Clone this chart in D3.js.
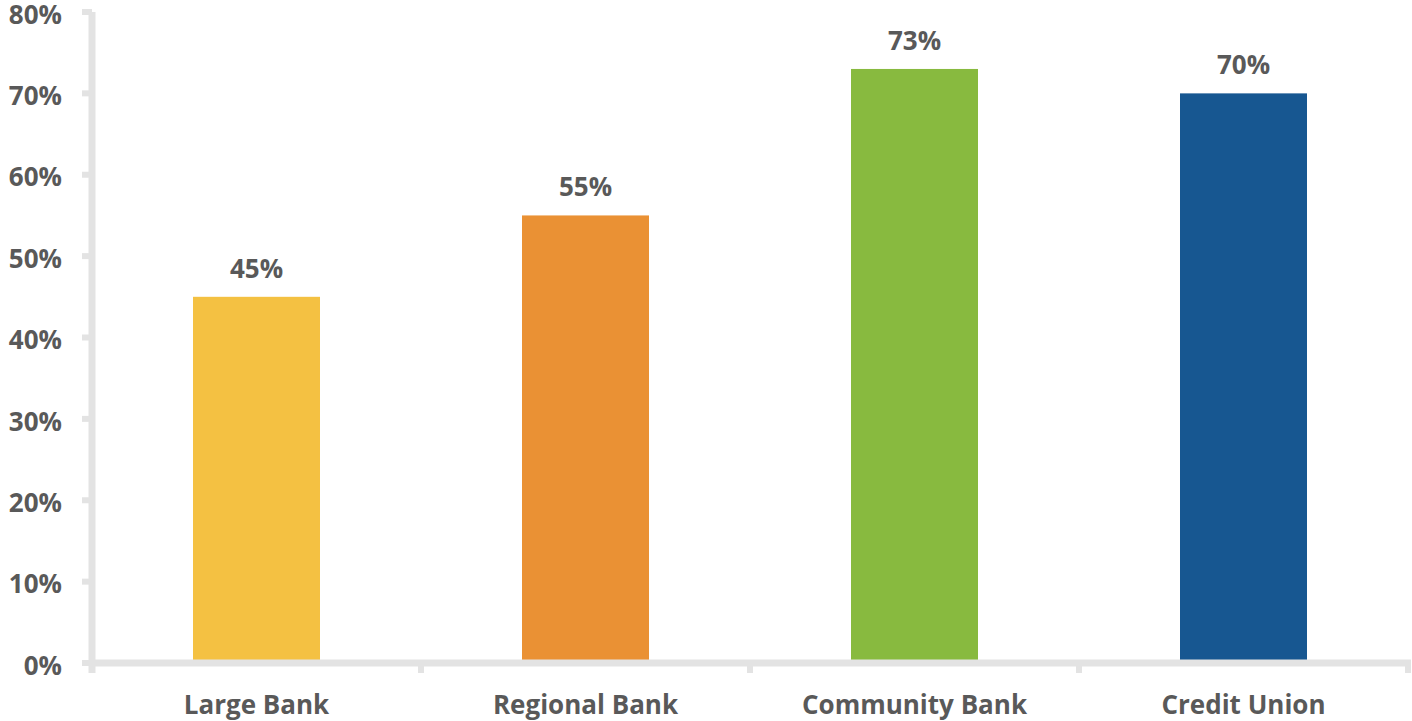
<!DOCTYPE html>
<html>
<head>
<meta charset="utf-8">
<script src="https://cdn.jsdelivr.net/npm/d3@7"></script>
<style>
  body { margin: 0; background: #fff; overflow: hidden; }
  text { font-family: "Open Sans", sans-serif; font-weight: 700; fill: #595959; }
</style>
</head>
<body>
<div id="container"></div>
<script>
var categories = ["Large Bank", "Regional Bank", "Community Bank", "Credit Union"];
var values = [45, 55, 73, 70];
var colors = ["#F4C142", "#EA9134", "#88BA3F", "#175791"];
var yTicks = [0, 10, 20, 30, 40, 50, 60, 70, 80];

var width = 1412, height = 721;
var plotLeft = 92, plotRight = 1408, plotTop = 12, plotBottom = 663;
var axisColor = "#e3e3e3";

var svg = d3.select("#container").append("svg")
    .attr("width", width).attr("height", height);

var x = d3.scaleBand().domain(categories).range([plotLeft, plotRight]).paddingInner(0).paddingOuter(0);
var y = d3.scaleLinear().domain([0, 80]).range([plotBottom, plotTop]);

// y axis
svg.append("line").attr("x1", plotLeft).attr("x2", plotLeft).attr("y1", plotTop).attr("y2", plotBottom + 10)
    .attr("stroke", axisColor).attr("stroke-width", 7);
svg.selectAll(".ytick").data(yTicks).enter().append("line")
    .attr("x1", plotLeft - 10).attr("x2", plotLeft)
    .attr("y1", function (d) { return y(d); }).attr("y2", function (d) { return y(d); })
    .attr("stroke", axisColor).attr("stroke-width", 6);
svg.selectAll(".ylab").data(yTicks).enter().append("text")
    .attr("x", 62).attr("y", function (d) { return y(d); }).attr("dy", "0.45em")
    .attr("text-anchor", "end").attr("font-size", 26)
    .text(function (d) { return d + "%"; });

// bars
var barW = x.bandwidth() * 0.386;
svg.selectAll(".bar").data(values).enter().append("rect")
    .attr("x", function (d, i) { return x(categories[i]) + (x.bandwidth() - barW) / 2; })
    .attr("y", function (d) { return y(d); })
    .attr("width", barW)
    .attr("height", function (d) { return y(0) - y(d); })
    .attr("fill", function (d, i) { return colors[i]; });

// x axis
svg.append("line").attr("x1", plotLeft).attr("x2", plotRight + 3).attr("y1", plotBottom).attr("y2", plotBottom)
    .attr("stroke", axisColor).attr("stroke-width", 7);
var bounds = categories.map(function (c) { return x(c); }).concat([plotRight]);
svg.selectAll(".xtick").data(bounds).enter().append("line")
    .attr("x1", function (d) { return d; }).attr("x2", function (d) { return d; })
    .attr("y1", plotBottom).attr("y2", plotBottom + 10)
    .attr("stroke", axisColor).attr("stroke-width", 6);

svg.selectAll(".xlab").data(categories).enter().append("text")
    .attr("x", function (d) { return x(d) + x.bandwidth() / 2; })
    .attr("y", 714).attr("text-anchor", "middle").attr("font-size", 26)
    .text(function (d) { return d; });

// value labels
svg.selectAll(".vlab").data(values).enter().append("text")
    .attr("x", function (d, i) { return x(categories[i]) + x.bandwidth() / 2; })
    .attr("y", function (d) { return y(d) - 19; })
    .attr("text-anchor", "middle").attr("font-size", 26)
    .text(function (d) { return d + "%"; });
</script>
</body>
</html>
